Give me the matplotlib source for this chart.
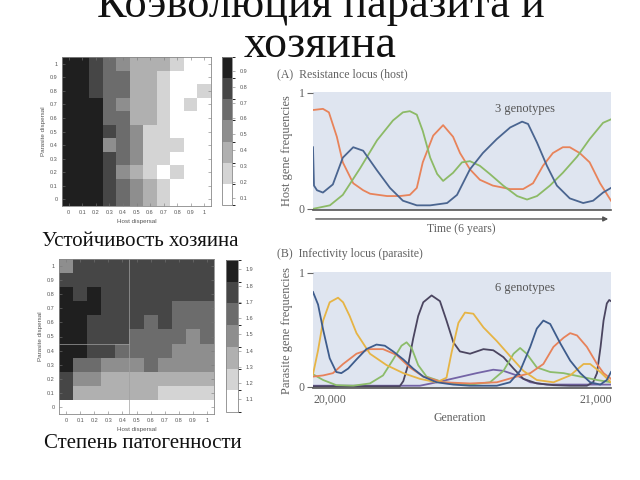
import numpy as np
import matplotlib.pyplot as plt
from matplotlib.colors import ListedColormap, BoundaryNorm

W, H = 640, 480

def box(x0, y0, x1, y1):
    # pixel box (top-left origin) -> figure fraction rect
    return [x0 / W, 1 - y1 / H, (x1 - x0) / W, (y1 - y0) / H]

# ---- heatmap data: rows = parasite dispersal 0..1, cols = host dispersal 0..1
dispersal = [0, 0.1, 0.2, 0.3, 0.4, 0.5, 0.6, 0.7, 0.8, 0.9, 1.0]
disp_labels = ['0', '0.1', '0.2', '0.3', '0.4', '0.5', '0.6', '0.7', '0.8', '0.9', '1']

host_resistance = [
    [.93, .93, .93, .80, .65, .50, .40, .25, .10, .10, .10],
    [.93, .93, .93, .80, .65, .50, .40, .25, .10, .10, .10],
    [.93, .93, .93, .80, .50, .40, .25, .10, .25, .10, .10],
    [.93, .93, .93, .80, .65, .50, .25, .25, .10, .10, .10],
    [.93, .93, .93, .50, .65, .50, .25, .25, .25, .10, .10],
    [.93, .93, .93, .80, .65, .50, .25, .25, .10, .10, .10],
    [.93, .93, .93, .65, .65, .40, .40, .25, .10, .10, .10],
    [.93, .93, .93, .65, .50, .40, .40, .25, .10, .25, .10],
    [.93, .93, .80, .65, .65, .40, .40, .25, .10, .10, .25],
    [.93, .93, .80, .65, .65, .40, .40, .25, .10, .10, .10],
    [.93, .93, .80, .65, .50, .40, .40, .40, .25, .10, .10],
]
res_ticks = [0.1, 0.2, 0.3, 0.4, 0.5, 0.6, 0.7, 0.8, 0.9]

virulence = [
    [1.1, 1.1, 1.1, 1.1, 1.1, 1.1, 1.1, 1.1, 1.1, 1.1, 1.1],
    [1.75, 1.35, 1.35, 1.35, 1.35, 1.35, 1.35, 1.2, 1.2, 1.2, 1.2],
    [1.75, 1.5, 1.5, 1.35, 1.35, 1.35, 1.35, 1.35, 1.35, 1.35, 1.35],
    [1.9, 1.6, 1.6, 1.5, 1.5, 1.5, 1.6, 1.5, 1.5, 1.5, 1.5],
    [1.9, 1.9, 1.75, 1.75, 1.6, 1.6, 1.6, 1.6, 1.5, 1.5, 1.5],
    [1.9, 1.9, 1.75, 1.75, 1.75, 1.6, 1.6, 1.6, 1.6, 1.5, 1.6],
    [1.9, 1.9, 1.75, 1.75, 1.75, 1.75, 1.6, 1.75, 1.6, 1.6, 1.6],
    [1.9, 1.9, 1.9, 1.75, 1.75, 1.75, 1.75, 1.75, 1.6, 1.6, 1.6],
    [1.9, 1.75, 1.9, 1.75, 1.75, 1.75, 1.75, 1.75, 1.75, 1.75, 1.75],
    [1.75, 1.75, 1.75, 1.75, 1.75, 1.75, 1.75, 1.75, 1.75, 1.75, 1.75],
    [1.5, 1.75, 1.75, 1.75, 1.75, 1.75, 1.75, 1.75, 1.75, 1.75, 1.75],
]
vir_ticks = [1.1, 1.2, 1.3, 1.4, 1.5, 1.6, 1.7, 1.8, 1.9]

# ---- panel A: host genotype frequencies over 6 years
a_orange_t = [0, 0.20, 0.32, 0.48, 0.60, 0.81, 1.01, 1.15, 1.49, 1.75, 1.95, 2.09, 2.21, 2.42, 2.62,
              2.82, 2.96, 3.16, 3.36, 3.62, 3.97, 4.23, 4.43, 4.63, 4.83, 5.03, 5.17, 5.37, 5.57, 5.78, 6.0]
a_orange = [0.85, 0.86, 0.83, 0.62, 0.40, 0.22, 0.16, 0.13, 0.11, 0.11, 0.12, 0.18, 0.40, 0.63, 0.72,
            0.62, 0.48, 0.34, 0.25, 0.20, 0.17, 0.17, 0.22, 0.37, 0.48, 0.53, 0.53, 0.48, 0.40, 0.22, 0.07]
a_green_t = [0, 0.34, 0.60, 0.95, 1.29, 1.61, 1.81, 1.95, 2.09, 2.21, 2.36, 2.50, 2.62, 2.82, 3.00,
             3.16, 3.36, 3.56, 3.83, 4.11, 4.31, 4.51, 4.77, 5.03, 5.32, 5.57, 5.84, 6.0]
a_green = [0.0, 0.03, 0.12, 0.35, 0.59, 0.76, 0.83, 0.84, 0.81, 0.67, 0.44, 0.30, 0.24, 0.31, 0.40,
           0.41, 0.37, 0.30, 0.20, 0.11, 0.08, 0.11, 0.20, 0.31, 0.45, 0.60, 0.74, 0.77]
a_blue_t = [0, 0.02, 0.08, 0.20, 0.40, 0.60, 0.81, 1.01, 1.29, 1.55, 1.81, 2.09, 2.36, 2.70, 2.90,
            3.16, 3.42, 3.70, 3.97, 4.21, 4.33, 4.51, 4.71, 4.91, 5.17, 5.44, 5.64, 5.84, 6.0]
a_blue = [0.53, 0.20, 0.16, 0.14, 0.21, 0.44, 0.53, 0.50, 0.33, 0.18, 0.07, 0.03, 0.03, 0.05, 0.12,
          0.34, 0.48, 0.60, 0.70, 0.75, 0.73, 0.57, 0.37, 0.20, 0.09, 0.05, 0.07, 0.14, 0.18]

# ---- panel B: parasite genotype frequencies, generations 20000..21000
b_navy_g = [20000, 20017, 20034, 20056, 20078, 20095, 20118, 20146, 20179, 20213, 20241, 20269, 20303,
            20336, 20370, 20415, 20471, 20527, 20617, 20661, 20695, 20729, 20751, 20773, 20796, 20830,
            20863, 20897, 20930, 20964, 20986, 21000]
b_navy = [0.83, 0.72, 0.50, 0.25, 0.13, 0.12, 0.16, 0.24, 0.33, 0.37, 0.36, 0.31, 0.24, 0.16, 0.09,
          0.04, 0.02, 0.01, 0.01, 0.04, 0.14, 0.35, 0.51, 0.58, 0.55, 0.38, 0.23, 0.12, 0.04, 0.02,
          0.06, 0.13]
b_yellow_g = [20000, 20017, 20034, 20056, 20084, 20101, 20123, 20146, 20191, 20247, 20303, 20359, 20415,
              20448, 20465, 20488, 20510, 20538, 20572, 20617, 20661, 20706, 20751, 20807, 20863, 20908,
              20930, 20964, 21000]
b_yellow = [0.11, 0.32, 0.58, 0.74, 0.78, 0.74, 0.62, 0.47, 0.29, 0.19, 0.12, 0.07, 0.04, 0.08, 0.30,
            0.56, 0.65, 0.64, 0.52, 0.40, 0.27, 0.14, 0.06, 0.04, 0.10, 0.20, 0.20, 0.13, 0.04]
b_dark_g = [20000, 20291, 20303, 20320, 20336, 20353, 20370, 20398, 20426, 20448, 20471, 20493, 20527,
            20572, 20605, 20639, 20673, 20706, 20751, 20807, 20863, 20919, 20940, 20953, 20965, 20975,
            20986, 20994, 21000]
b_dark = [0.005, 0.005, 0.05, 0.20, 0.42, 0.62, 0.74, 0.80, 0.75, 0.58, 0.39, 0.31, 0.29, 0.33, 0.32,
          0.26, 0.16, 0.07, 0.03, 0.015, 0.01, 0.01, 0.04, 0.12, 0.35, 0.58, 0.73, 0.76, 0.75]
b_green_g = [20000, 20034, 20078, 20135, 20191, 20235, 20269, 20297, 20314, 20331, 20353, 20381, 20437,
             20527, 20594, 20639, 20673, 20695, 20717, 20751, 20796, 20841, 20897, 20953, 21000]
b_green = [0.11, 0.06, 0.015, 0.01, 0.03, 0.10, 0.24, 0.36, 0.39, 0.34, 0.19, 0.09, 0.04, 0.02, 0.04,
           0.14, 0.29, 0.34, 0.29, 0.17, 0.13, 0.12, 0.09, 0.06, 0.04]
b_orange_g = [20000, 20034, 20067, 20101, 20146, 20191, 20235, 20280, 20325, 20370, 20437, 20527, 20617,
              20684, 20729, 20773, 20807, 20841, 20863, 20886, 20919, 20953, 20975, 21000]
b_orange = [0.09, 0.10, 0.12, 0.20, 0.29, 0.33, 0.33, 0.28, 0.17, 0.09, 0.04, 0.03, 0.04, 0.09, 0.12,
            0.20, 0.35, 0.43, 0.47, 0.45, 0.35, 0.20, 0.12, 0.07]
b_purple_g = [20000, 20359, 20415, 20482, 20549, 20605, 20639, 20684, 20729, 20785, 21000]
b_purple = [0.01, 0.01, 0.04, 0.08, 0.12, 0.15, 0.14, 0.10, 0.04, 0.02, 0.02]

grays = ListedColormap(['#ffffff', '#d4d4d4', '#b0b0b0', '#8e8e8e', '#6c6c6c', '#464646', '#1f1f1f'])
sans = ['Liberation Sans', 'DejaVu Sans']
serif = ['Liberation Serif', 'DejaVu Serif']
panel_bg = '#dfe5f0'
txt_gray = '#606060'

fig = plt.figure(figsize=(6.4, 4.8), dpi=100)


def heatmap(rect, crect, grid, vmin, vmax, cticks):
    ax = fig.add_axes(box(*rect))
    edges = np.arange(-0.05, 1.1, 0.1)
    norm = BoundaryNorm(np.linspace(vmin, vmax, 8), grays.N)
    mesh = ax.pcolormesh(edges, edges, np.array(grid), cmap=grays, norm=norm)
    ax.set_xlim(-0.05, 1.05)
    ax.set_ylim(-0.05, 1.05)
    ax.set_xticks(dispersal)
    ax.set_xticklabels(disp_labels)
    ax.set_yticks(dispersal)
    ax.set_yticklabels(disp_labels)
    ax.tick_params(direction='in', length=2, width=0.4, top=True, right=True,
                   labelsize=4, labelcolor='#555555', color='#777777', pad=3)
    for lab in ax.get_xticklabels() + ax.get_yticklabels():
        lab.set_family(sans)
    for s in ax.spines.values():
        s.set_color('#888888')
        s.set_linewidth(0.6)
    ax.set_xlabel('Host dispersal', fontsize=4.5, color='#555555', family=sans, labelpad=3)
    ax.set_ylabel('Parasite dispersal', fontsize=4.5, color='#555555', family=sans, labelpad=3)
    cax = fig.add_axes(box(*crect))
    cb = fig.colorbar(mesh, cax=cax, ticks=cticks)
    cb.ax.tick_params(labelsize=4, length=2, width=0.4, labelcolor='#555555', color='#777777')
    for lab in cb.ax.get_yticklabels():
        lab.set_family(sans)
    cb.outline.set_linewidth(0.6)
    cb.outline.set_edgecolor('#888888')
    return ax


heatmap((62, 57, 211, 206), (222, 57, 232, 205), host_resistance, 0.054, 0.988, res_ticks)
ax2 = heatmap((59, 259, 214, 414), (226, 260, 238, 412), virulence, 1.022, 1.958, vir_ticks)
ax2.axvline(0.45, color='#a0a0a0', lw=0.5)
ax2.plot([-0.05, 0.45], [0.45, 0.45], color='#a0a0a0', lw=0.5)

fig.text(140 / W, 1 - 241 / H, 'Устойчивость хозяина', ha='center', va='center',
         fontsize=15, family=serif, color='#111111')
fig.text(143 / W, 1 - 443 / H, 'Степень патогенности', ha='center', va='center',
         fontsize=15, family=serif, color='#111111')

# title (runs off the top of the slide, as on the original)
fig.text(321 / W, 1 - 17 / H, 'Коэволюция паразита и', ha='center', va='baseline',
         fontsize=32, family=serif, color='#111111')
fig.text(320 / W, 1 - 57 / H, 'хозяина', ha='center', va='baseline',
         fontsize=33, family=serif, color='#111111')


def freq_panel(rect, ylabel):
    ax = fig.add_axes(box(*rect))
    ax.set_facecolor(panel_bg)
    ax.set_ylim(-0.01, 1.005)
    for k in ('top', 'right', 'left'):
        ax.spines[k].set_visible(False)
    ax.spines['bottom'].set_color('#555555')
    ax.spines['bottom'].set_linewidth(1.2)
    ax.set_yticks([0, 1])
    ax.set_yticklabels(['0', '1'])
    ax.tick_params(axis='y', length=4, width=0.8, color='#666666', labelcolor=txt_gray,
                   labelsize=8.5, pad=2)
    for lab in ax.get_yticklabels():
        lab.set_family(serif)
    ax.set_xticks([])
    ax.set_ylabel(ylabel, fontsize=9, family=serif, color=txt_gray, labelpad=4)
    return ax


lw = 1.3
axA = freq_panel((313, 92, 611, 210), 'Host gene frequencies')
axA.plot(a_orange_t, a_orange, color='#e8835a', lw=lw)
axA.plot(a_green_t, a_green, color='#8cba66', lw=lw)
axA.plot(a_blue_t, a_blue, color='#4a6590', lw=lw)
axA.set_xlim(0, 6)
axA.text(0.71, 0.86, '3 genotypes', transform=axA.transAxes, ha='center', va='center',
         fontsize=9, family=serif, color='#555555')
axA.annotate('', xy=(1.0, -0.076), xytext=(0.0, -0.076), xycoords='axes fraction',
             arrowprops=dict(arrowstyle='-|>', color='#555555', lw=1, mutation_scale=7))
fig.text(461 / W, 1 - 229 / H, 'Time (6 years)', ha='center', va='center',
         fontsize=8.5, family=serif, color=txt_gray)
fig.text(277 / W, 1 - 74 / H, '(A)  Resistance locus (host)', ha='left', va='center',
         fontsize=8.5, family=serif, color=txt_gray)

axB = freq_panel((313, 272, 611, 388), 'Parasite gene frequencies')
axB.plot(b_purple_g, b_purple, color='#7464a6', lw=lw)
axB.plot(b_dark_g, b_dark, color='#4b4560', lw=lw)
axB.plot(b_green_g, b_green, color='#8cbc6a', lw=lw)
axB.plot(b_orange_g, b_orange, color='#e7825a', lw=lw)
axB.plot(b_yellow_g, b_yellow, color='#e6b445', lw=lw)
axB.plot(b_navy_g, b_navy, color='#3e5c8c', lw=lw)
axB.set_xlim(20000, 21000)
axB.text(0.71, 0.86, '6 genotypes', transform=axB.transAxes, ha='center', va='center',
         fontsize=9, family=serif, color='#555555')
fig.text(313 / W, 1 - 400 / H, '20,000', ha='left', va='center',
         fontsize=8.5, family=serif, color=txt_gray)
fig.text(612 / W, 1 - 400 / H, '21,000', ha='right', va='center',
         fontsize=8.5, family=serif, color=txt_gray)
fig.text(460 / W, 1 - 418 / H, 'Generation', ha='center', va='center',
         fontsize=8.5, family=serif, color=txt_gray)
fig.text(277 / W, 1 - 254 / H, '(B)  Infectivity locus (parasite)', ha='left', va='center',
         fontsize=8.5, family=serif, color=txt_gray)

fig.savefig('out.png', dpi=100)
